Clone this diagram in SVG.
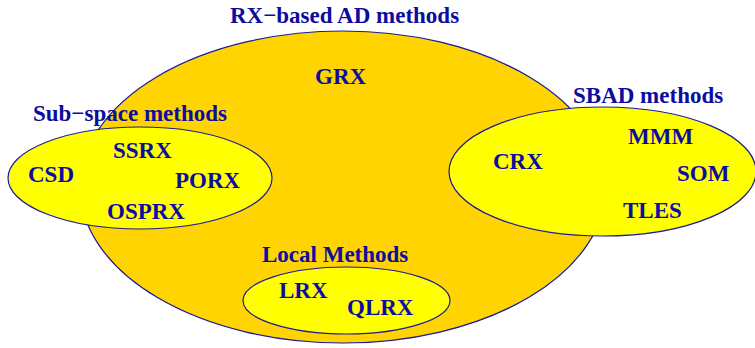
<svg xmlns="http://www.w3.org/2000/svg" width="755" height="348" viewBox="0 0 755 348">
<style>
.big{fill:#FFD400;stroke:#1A1A9A;stroke-width:1.2}
.small{fill:#FFFF00;stroke:#1A1A9A;stroke-width:1.2}
text{font-family:"Liberation Serif","Times New Roman",serif;font-weight:bold;font-size:23px;fill:#0C0CA0}
</style>
<rect width="755" height="348" fill="#FFFFFF"/>
<g id="rx-based">
<ellipse class="big" cx="343" cy="187" rx="263" ry="156"/>
<text x="230" y="23">RX−based AD methods</text>
<text x="315" y="84">GRX</text>
</g>
<g id="sub-space">
<ellipse class="small" cx="140" cy="178" rx="132" ry="51"/>
<text x="33" y="120.5">Sub−space methods</text>
<text x="113" y="157.5">SSRX</text>
<text x="28" y="181.5">CSD</text>
<text x="175" y="187.5">PORX</text>
<text x="107" y="219">OSPRX</text>
</g>
<g id="sbad">
<ellipse class="small" cx="602.5" cy="171.5" rx="153.5" ry="64.5"/>
<text x="573" y="102.5">SBAD methods</text>
<text x="628" y="144">MMM</text>
<text x="493" y="169">CRX</text>
<text x="677" y="181">SOM</text>
<text x="623" y="218">TLES</text>
</g>
<g id="local">
<ellipse class="small" cx="346.5" cy="300.5" rx="103.5" ry="33.5"/>
<text x="262" y="261.5">Local Methods</text>
<text x="279" y="298">LRX</text>
<text x="347" y="315">QLRX</text>
</g>
<g id="connectors"/>
</svg>
